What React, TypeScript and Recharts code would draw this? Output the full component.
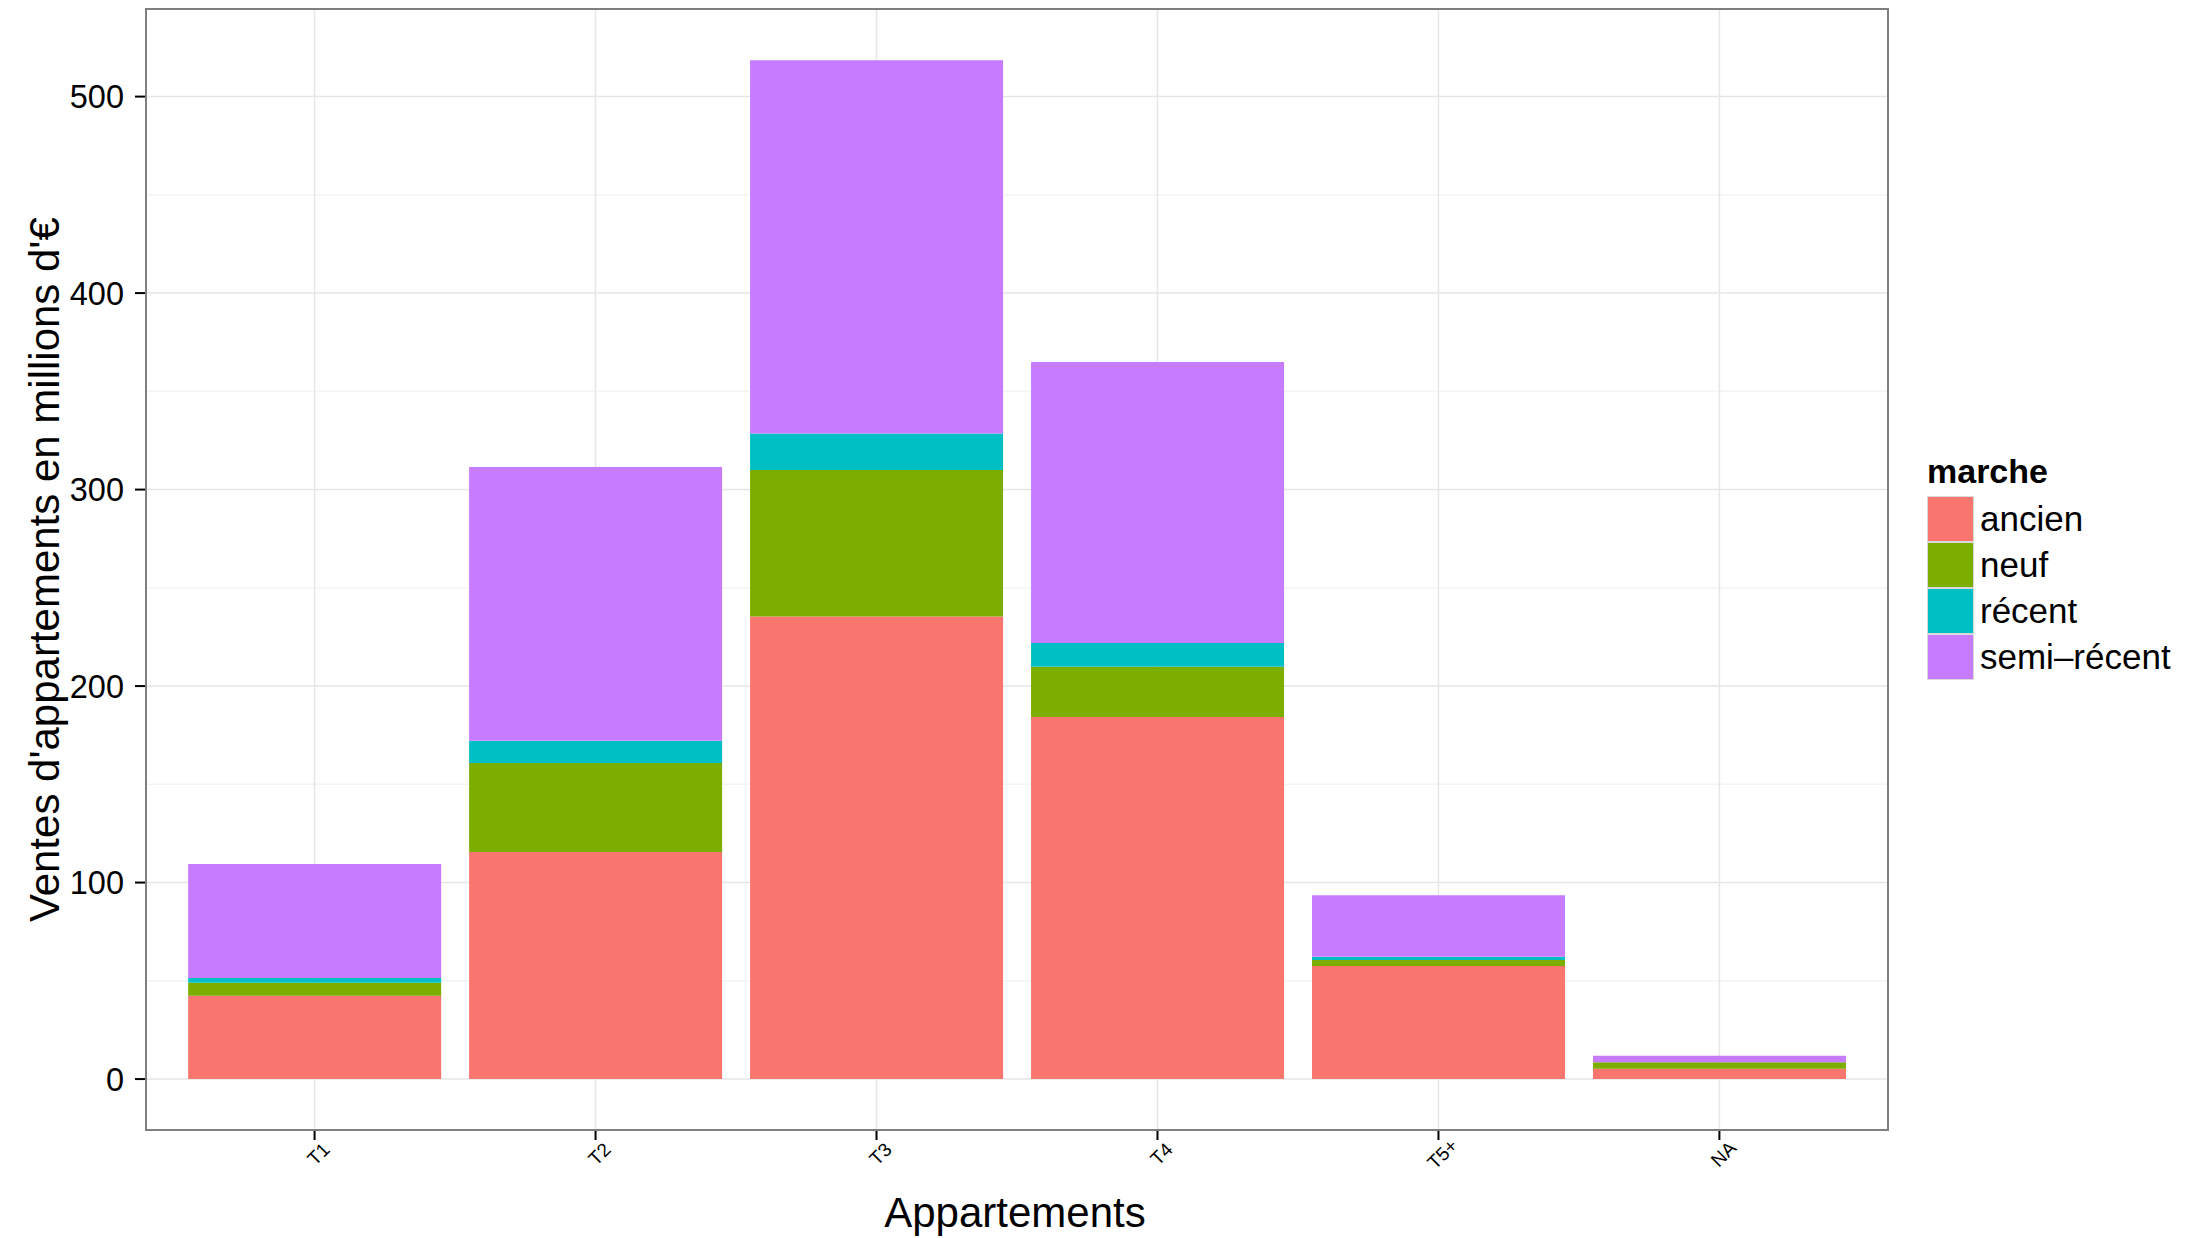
import React from 'react';
import { BarChart, Bar, XAxis, YAxis, CartesianGrid, Legend } from 'recharts';

const categories = ['T1', 'T2', 'T3', 'T4', 'T5+', 'NA'];
const ancien = [42.4, 115.6, 235.4, 184.2, 57.5, 5.2];
const neuf = [6.6, 45.2, 74.6, 25.6, 3.1, 3.3];
const recent = [2.4, 11.4, 18.6, 12.1, 1.7, 0];
const semiRecent = [58.1, 139.3, 189.9, 143.0, 31.3, 3.3];

const yTicks = [0, 100, 200, 300, 400, 500];
const yMinorTicks = [50, 150, 250, 350, 450];

const seriesKeys = ['ancien', 'neuf', 'recent', 'semiRecent'];
const seriesLabels = ['ancien', 'neuf', 'récent', 'semi–récent'];
const seriesColors = ['#F8766D', '#7CAE00', '#00BFC4', '#C77CFF'];

const data = categories.map((name, i) => ({
  name,
  ancien: ancien[i],
  neuf: neuf[i],
  recent: recent[i],
  semiRecent: semiRecent[i],
}));

// ggplot-like 5% expansion around [0, max stack]
const totals = categories.map((_, i) => ancien[i] + neuf[i] + recent[i] + semiRecent[i]);
const maxTotal = Math.max(...totals);
const pad = maxTotal * 0.05;

const FONT = '"Liberation Sans", Arial, Helvetica, sans-serif';
const W = 2193;
const H = 1238;
const PLOT_LEFT = 146;
const PLOT_TOP = 9.3;
const PLOT_RIGHT = 1888;
const PLOT_BOTTOM = 1130;
const Y_AXIS_W = 60;
const X_AXIS_H = 60;
// discrete scale expansion of 0.6 units on each side
const unit = (PLOT_RIGHT - PLOT_LEFT) / (categories.length + 0.2);
const xPad = unit * 0.1;

const XTick = (props: any) => {
  const { x, y, payload } = props;
  return (
    <g transform={`translate(${x + 4},${y + 12})`}>
      <text
        transform="rotate(-45)"
        textAnchor="middle"
        dominantBaseline="central"
        fontSize={19}
        fill="#000"
        fontFamily={FONT}
      >
        {payload.value}
      </text>
    </g>
  );
};

const LegendBox = () => (
  <div style={{ fontFamily: FONT, color: '#000' }}>
    <div style={{ fontSize: 34, fontWeight: 'bold', lineHeight: '40px', height: 40, marginBottom: 5 }}>marche</div>
    {seriesLabels.map((label, i) => (
      <div key={label} style={{ display: 'flex', alignItems: 'center', height: 46 }}>
        <div
          style={{
            width: 47,
            height: 46,
            boxSizing: 'border-box',
            background: seriesColors[i],
            border: '1px solid #d9d9d9',
          }}
        />
        <span style={{ fontSize: 35, marginLeft: 6, lineHeight: '46px' }}>{label}</span>
      </div>
    ))}
  </div>
);

export default function App() {
  return (
    <div style={{ position: 'absolute', left: 0, top: 0, width: W, height: H, background: '#fff' }}>
      <BarChart
        width={W}
        height={H}
        data={data}
        margin={{
          top: PLOT_TOP,
          right: W - PLOT_RIGHT,
          bottom: H - PLOT_BOTTOM - X_AXIS_H,
          left: PLOT_LEFT - Y_AXIS_W,
        }}
        barCategoryGap="5%"
      >
        <CartesianGrid
          horizontalValues={yMinorTicks}
          vertical={false}
          stroke="#F4F4F4"
          strokeWidth={1.5}
        />
        <CartesianGrid stroke="#E6E6E6" strokeWidth={1.5} />
        <XAxis
          dataKey="name"
          height={X_AXIS_H}
          padding={{ left: xPad, right: xPad }}
          axisLine={false}
          tickLine={{ stroke: '#000', strokeWidth: 2 }}
          tickSize={10}
          tick={<XTick />}
          interval={0}
          label={() => (
            <text
              x={(PLOT_LEFT + PLOT_RIGHT) / 2 - 2}
              y={1226.5}
              textAnchor="middle"
              fontSize={42}
              fill="#000"
              fontFamily={FONT}
            >
              Appartements
            </text>
          )}
        />
        <YAxis
          width={Y_AXIS_W}
          type="number"
          domain={[-pad, maxTotal + pad]}
          allowDataOverflow
          ticks={yTicks}
          axisLine={false}
          tickLine={{ stroke: '#000', strokeWidth: 2 }}
          tickSize={11}
          tickMargin={11}
          tick={{ fill: '#000', fontSize: 32.5, fontFamily: FONT }}
          label={() => (
            <text
              transform={`translate(59,${(PLOT_TOP + PLOT_BOTTOM) / 2}) rotate(-90)`}
              textAnchor="middle"
              fontSize={42}
              fill="#000"
              fontFamily={FONT}
            >
              Ventes d'appartements en millions d'€
            </text>
          )}
        />
        <Legend
          layout="vertical"
          align="center"
          verticalAlign="middle"
          wrapperStyle={{ left: 1927, top: 451, width: 260, height: 240 }}
          content={() => <LegendBox />}
        />
        {seriesKeys.map((key, i) => (
          <Bar
            key={key}
            dataKey={key}
            name={seriesLabels[i]}
            stackId="a"
            fill={seriesColors[i]}
            isAnimationActive={false}
          />
        ))}
      </BarChart>
      <div
        style={{
          position: 'absolute',
          left: PLOT_LEFT - 1,
          top: PLOT_TOP - 1,
          width: PLOT_RIGHT - PLOT_LEFT + 2,
          height: PLOT_BOTTOM - PLOT_TOP + 2,
          border: '2px solid #7F7F7F',
          boxSizing: 'border-box',
          pointerEvents: 'none',
        }}
      />
    </div>
  );
}
